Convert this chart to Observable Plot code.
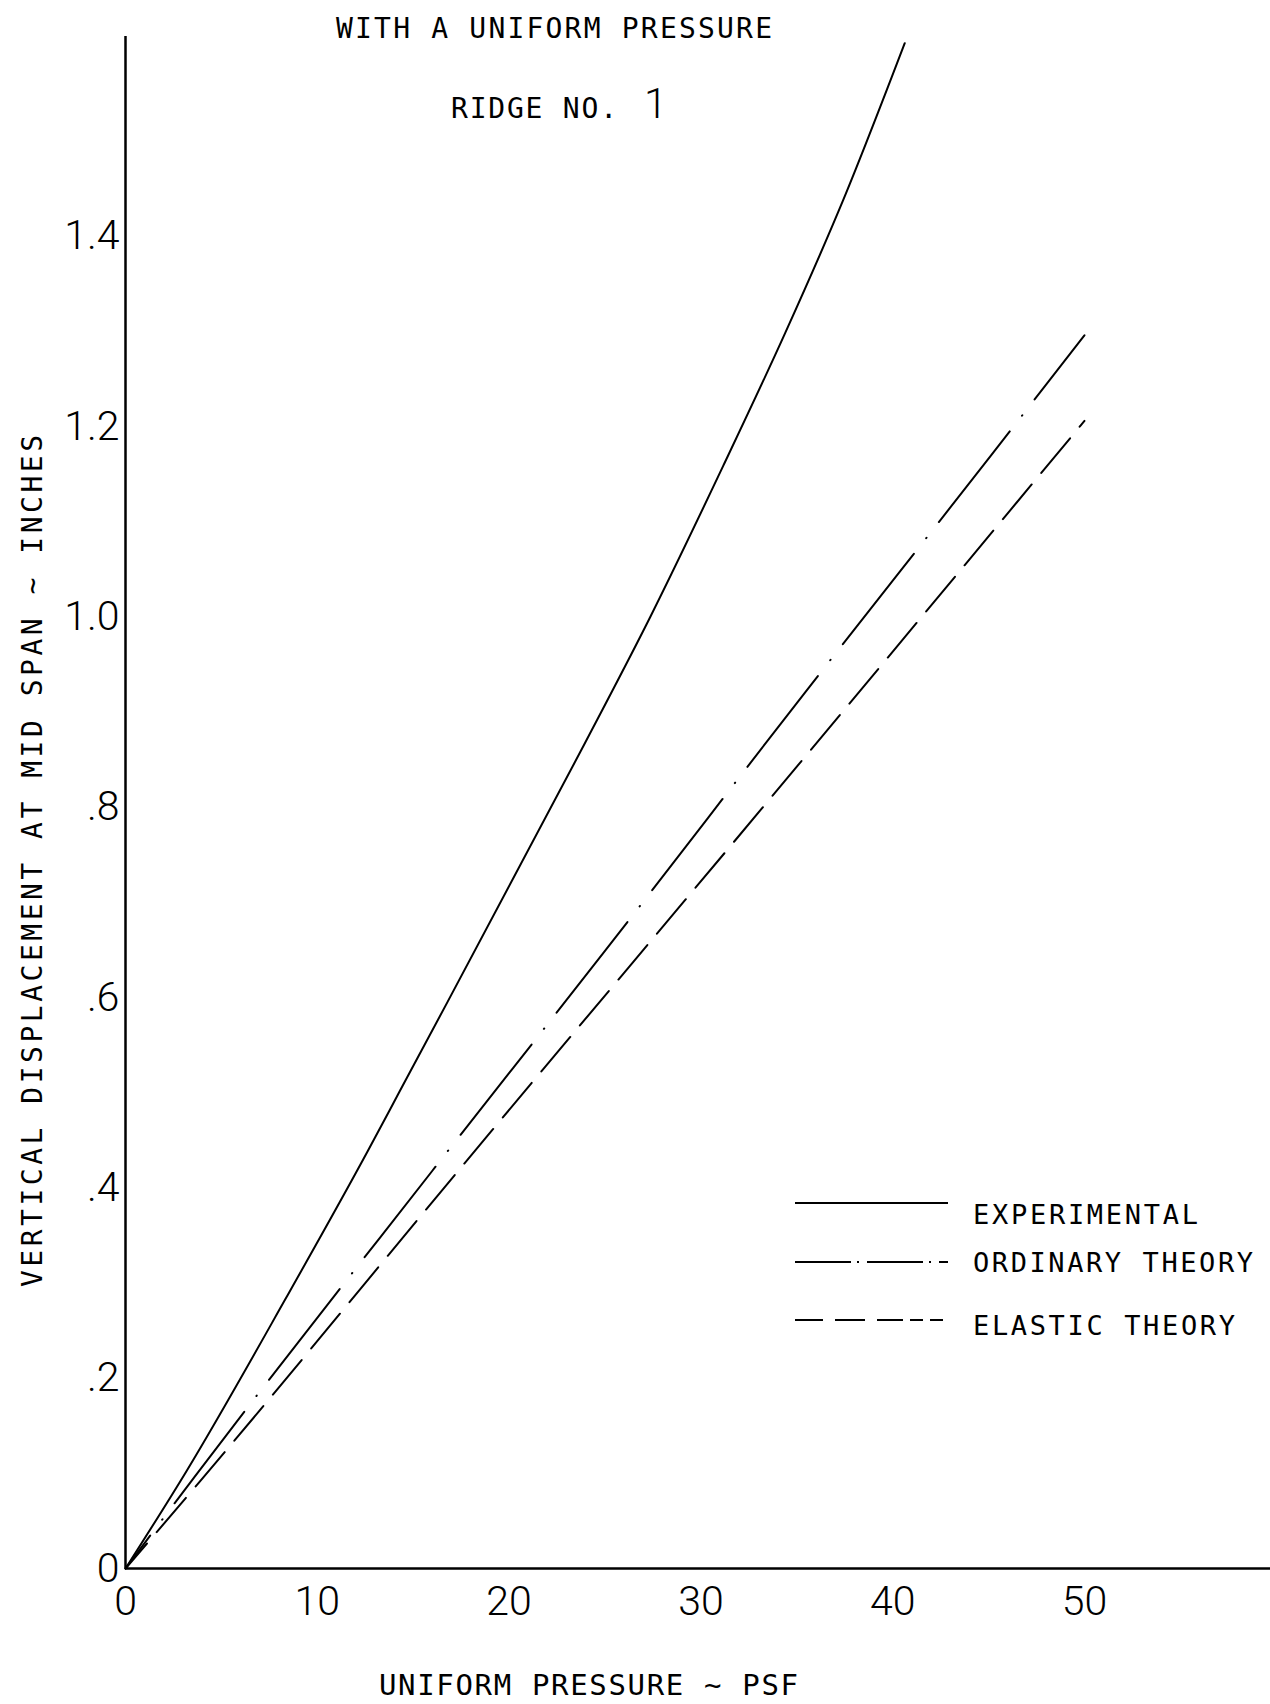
<!DOCTYPE html>
<html>
<head>
<meta charset="utf-8">
<script src="https://cdn.jsdelivr.net/npm/d3@7"></script>
<script src="https://cdn.jsdelivr.net/npm/@observablehq/plot@0.6"></script>
<style>
  html, body { margin: 0; padding: 0; background: #fff; overflow: hidden; }
  #wrap { position: relative; width: 1270px; height: 1704px; overflow: hidden; background: #fff; }
  #wrap > svg { position: absolute; left: 0; top: 0; }
  #overlay { pointer-events: none; }
  #overlay text { font-family: "DejaVu Sans Mono", "Liberation Mono", monospace; fill: #000; }
</style>
</head>
<body>
<div id="wrap"></div>
<script>
// ---- text ----
const titleLine1 = "WITH A UNIFORM PRESSURE";
const titleLine2 = "RIDGE NO.";
const ridgeNumber = "1";
const xLabel = "UNIFORM PRESSURE ~ PSF";
const yLabel = "VERTICAL DISPLACEMENT AT MID SPAN  ~  INCHES";
const seriesNames = ["EXPERIMENTAL", "ORDINARY THEORY", "ELASTIC THEORY"];

// ---- ticks ----
const xTicks = [0, 10, 20, 30, 40, 50];
const xTickLabels = ["0", "10", "20", "30", "40", "50"];
const yTicks = [0, 0.2, 0.4, 0.6, 0.8, 1.0, 1.2, 1.4];
const yTickLabels = ["0", ".2", ".4", ".6", ".8", "1.0", "1.2", "1.4"];

// ---- series (pressure psf, displacement in) ----
const experimentalP = [0, 3.17, 8.39, 12.64, 14.31, 23.71, 27.36, 31.17, 34.41, 37.44, 40.63];
const experimentalD = [0, 0.102, 0.285, 0.439, 0.502, 0.858, 1.000, 1.159, 1.299, 1.439, 1.603];

const ordinaryP = [0, 3.7, 16.0, 25.0, 35.6, 45.1, 50.0];
const ordinaryD = [0, 0.099, 0.418, 0.649, 0.925, 1.169, 1.296];

const elasticP = [0, 3.86, 17.6, 35.1, 50.0];
const elasticD = [0, 0.091, 0.424, 0.845, 1.206];

// ---- build tables ----
const toRows = (P, D) => P.map((p, i) => ({p, d: D[i]}));
const experimental = toRows(experimentalP, experimentalD);
const ordinary = toRows(ordinaryP, ordinaryD);
const elastic = toRows(elasticP, elasticD);

const tickFont = "Roboto, 'Liberation Sans', sans-serif";

const chart = Plot.plot({
  width: 1270,
  height: 1704,
  marginLeft: 125,
  marginRight: 0,
  marginTop: 36,
  marginBottom: 136,
  x: {domain: [0, 59.7], ticks: xTicks, tickSize: 0, tickPadding: 17, label: null,
      tickFormat: d => xTickLabels[xTicks.indexOf(d)]},
  y: {domain: [0, 1.61], ticks: yTicks, tickSize: 0, tickPadding: 6, label: null,
      tickFormat: d => yTickLabels[yTicks.indexOf(d)]},
  style: {background: "white", color: "black", fontFamily: tickFont, fontSize: "41px", fontWeight: 300},
  marks: [
    Plot.ruleY([0], {stroke: "black", strokeWidth: 2.5}),
    Plot.ruleX([0], {stroke: "black", strokeWidth: 2.5}),
    Plot.line(experimental, {x: "p", y: "d", curve: "monotone-x", stroke: "black", strokeWidth: 2}),
    Plot.line(ordinary, {x: "p", y: "d", curve: "monotone-x", stroke: "black", strokeWidth: 2,
      strokeDasharray: "115,20,0.5,20", strokeDashoffset: 74, strokeLinecap: "round"}),
    Plot.line(elastic, {x: "p", y: "d", curve: "monotone-x", stroke: "black", strokeWidth: 2,
      strokeDasharray: "45,15", strokeDashoffset: 12})
  ]
});

const wrap = document.getElementById("wrap");
wrap.appendChild(chart);

// ---- overlay: titles, axis labels, legend ----
const ov = d3.select(wrap).append("svg")
  .attr("id", "overlay")
  .attr("width", 1270).attr("height", 1704);

function txt(s, x, y, size, len, extra) {
  const t = ov.append("text").attr("x", x).attr("y", y)
    .attr("font-size", size).text(s);
  if (len) t.attr("textLength", len).attr("lengthAdjust", "spacing");
  if (extra) extra(t);
  return t;
}

txt(titleLine1, 336, 38, 28, 436);
txt(titleLine2, 451, 118, 28, 166);
ov.append("text").attr("x", 644).attr("y", 118)
  .style("font-family", tickFont).style("font-weight", 300)
  .attr("font-size", 42).text(ridgeNumber);

txt(xLabel, 379, 1695, 29, 419);
txt(yLabel, 0, 0, 28, 852, t => t.attr("transform", "translate(42,1287) rotate(-90)"));

// legend
const legendStyles = [
  {dash: null, y: 1203, ty: 1224, len: 225},
  {dash: "56,6,2,8", y: 1262, ty: 1272, len: 280},
  {dash: "28,12,30,12,26,7,13,7,13", y: 1320, ty: 1335, len: 262}
];
seriesNames.forEach((name, i) => {
  const s = legendStyles[i];
  const l = ov.append("line").attr("x1", 795).attr("x2", 948)
    .attr("y1", s.y).attr("y2", s.y)
    .attr("stroke", "black").attr("stroke-width", 2);
  if (s.dash) l.attr("stroke-dasharray", s.dash);
  txt(name, 973, s.ty, 27, s.len);
});
</script>
</body>
</html>
